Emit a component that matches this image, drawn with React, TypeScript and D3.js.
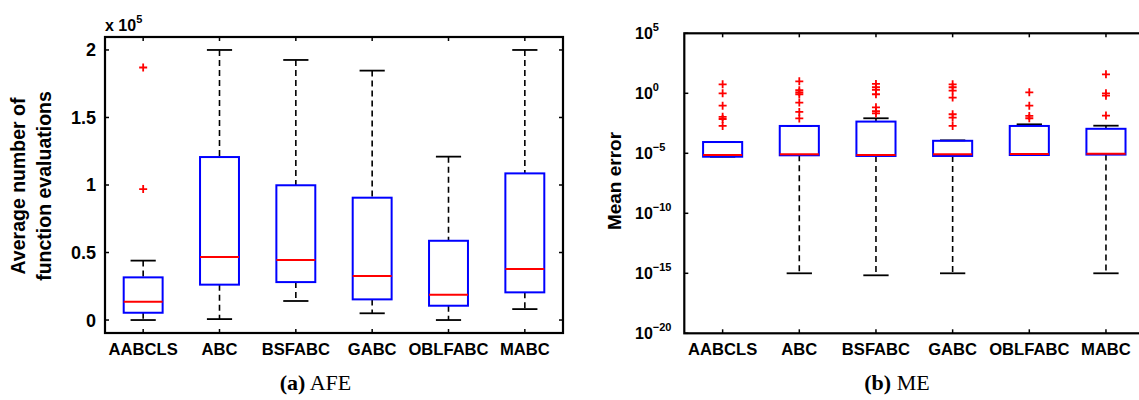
import React from "react";
import * as d3 from "d3";

// categories shared by both panels
const categories = ["AABCLS", "ABC", "BSFABC", "GABC", "OBLFABC", "MABC"];

// (a) AFE, in units of 1e5
const afeLow = [0.0, 0.007, 0.141, 0.05, 0.0, 0.081];
const afeQ1 = [0.054, 0.262, 0.281, 0.153, 0.106, 0.205];
const afeMed = [0.136, 0.467, 0.444, 0.326, 0.187, 0.378];
const afeQ3 = [0.316, 1.207, 0.998, 0.906, 0.587, 1.086];
const afeHigh = [0.44, 2.0, 1.926, 1.847, 1.21, 2.0];
const afeOut = [[1.87, 0.97], [], [], [], [], []];
const afeTicks = [0, 0.5, 1, 1.5, 2];

// (b) ME, log scale
const meLow = [5.2e-6, 1e-15, 6.8e-16, 1e-15, 7.2e-6, 1e-15];
const meQ1 = [5.2e-6, 6.8e-6, 6.0e-6, 6.0e-6, 7.2e-6, 7.8e-6];
const meMed = [7.2e-6, 8.3e-6, 7.2e-6, 8.3e-6, 8.7e-6, 9.3e-6];
const meQ3 = [8.7e-5, 1.9e-3, 4.4e-3, 1.1e-4, 1.9e-3, 1.1e-3];
const meHigh = [8.7e-5, 1.9e-3, 8.3e-3, 1.2e-4, 2.6e-3, 2.0e-3];
const meOut = [
  [5.6, 1.0, 0.093, 0.011, 0.0072, 0.0019],
  [10, 1.8, 1.2, 0.83, 0.17, 0.028, 0.008],
  [6.0, 3.2, 1.9, 0.83, 0.068, 0.032, 0.021],
  [5.6, 3.2, 1.7, 0.44, 0.018, 0.0093, 0.0019],
  [1.2, 0.093, 0.013, 0.0083],
  [38, 1.0, 0.63, 0.014],
];
const meTickExp = [5, 0, -5, -10, -15, -20];

const SANS = "'Liberation Sans', Arial, Helvetica, sans-serif";
const SERIF = "'Liberation Serif', 'Times New Roman', serif";

function Boxes({ x, y, low, q1, med, q3, high, out }: any) {
  const step = x.step();
  const bw = step * 0.255; // half box width
  const cw = step * 0.165; // half cap width
  return (
    <g>
      {categories.map((c, i) => {
        const cx = x(c);
        return (
          <g key={c}>
            <line x1={cx} x2={cx} y1={y(high[i])} y2={y(q3[i])} stroke="#000" strokeWidth={1.6} strokeDasharray="6,4" />
            <line x1={cx} x2={cx} y1={y(q1[i])} y2={y(low[i])} stroke="#000" strokeWidth={1.6} strokeDasharray="6,4" />
            <line x1={cx - cw} x2={cx + cw} y1={y(high[i])} y2={y(high[i])} stroke="#000" strokeWidth={1.8} />
            <line x1={cx - cw} x2={cx + cw} y1={y(low[i])} y2={y(low[i])} stroke="#000" strokeWidth={1.8} />
            <rect x={cx - bw} y={y(q3[i])} width={bw * 2} height={y(q1[i]) - y(q3[i])} fill="none" stroke="#0000ff" strokeWidth={2} />
            <line x1={cx - bw} x2={cx + bw} y1={y(med[i])} y2={y(med[i])} stroke="#ff0000" strokeWidth={2} />
            {out[i].map((v: number, j: number) => (
              <path key={j} d={`M${cx - 4},${y(v)}H${cx + 4}M${cx},${y(v) - 4}V${y(v) + 4}`} stroke="#ff0000" strokeWidth={1.8} />
            ))}
          </g>
        );
      })}
    </g>
  );
}

function Frame({ x, x0, x1, top, bottom, yTicks, y }: any) {
  return (
    <g>
      {categories.map((c) => (
        <g key={c}>
          <line x1={x(c)} x2={x(c)} y1={bottom} y2={bottom - 4} stroke="#000" strokeWidth={1.5} />
          <line x1={x(c)} x2={x(c)} y1={top} y2={top + 4} stroke="#000" strokeWidth={1.5} />
          <text x={x(c)} y={bottom + 22} textAnchor="middle" fontFamily={SANS} fontWeight="bold" fontSize={16.6}>{c}</text>
        </g>
      ))}
      {yTicks.map((t: number) => (
        <g key={t}>
          <line x1={x0} x2={x0 + 4} y1={y(t)} y2={y(t)} stroke="#000" strokeWidth={1.5} />
          <line x1={x1} x2={x1 - 4} y1={y(t)} y2={y(t)} stroke="#000" strokeWidth={1.5} />
        </g>
      ))}
      <rect x={x0} y={top} width={x1 - x0} height={bottom - top} fill="none" stroke="#000" strokeWidth={2.2} />
    </g>
  );
}

export default function App() {
  // panel (a)
  const aX0 = 105, aX1 = 563, aTop = 37, aBottom = 333;
  const xa = d3.scalePoint().domain(categories).range([aX0, aX1]).padding(0.5);
  const ya = d3.scaleLinear().domain([-0.096, 2.096]).range([aBottom, aTop]);

  // panel (b)
  const bX0 = 684.3, bX1 = 1144.3, bTop = 33.3, bBottom = 333.3;
  const xb = d3.scalePoint().domain(categories).range([bX0, bX1]).padding(0.5);
  const yb = d3.scaleLog().domain([1e-20, 1e5]).range([bBottom, bTop]);

  return (
    <svg width={1139} height={400} style={{ position: "absolute", left: 0, top: 0, background: "#fff" }}>
      {/* panel a */}
      <Frame x={xa} x0={aX0} x1={aX1} top={aTop} bottom={aBottom} yTicks={afeTicks} y={ya} />
      {afeTicks.map((t) => (
        <text key={t} x={96} y={ya(t)} dy="0.36em" textAnchor="end" fontFamily={SANS} fontWeight="bold" fontSize={18}>{t}</text>
      ))}
      <text x={105} y={31} fontFamily={SANS} fontWeight="bold" fontSize={16}>
        x 10<tspan fontSize={11} dy={-8}>5</tspan>
      </text>
      <Boxes x={xa} y={ya} low={afeLow} q1={afeQ1} med={afeMed} q3={afeQ3} high={afeHigh} out={afeOut} />
      <text transform={`translate(25,186) rotate(-90)`} textAnchor="middle" fontFamily={SANS} fontWeight="bold" fontSize={19.5}>Average number of</text>
      <text transform={`translate(50.5,186) rotate(-90)`} textAnchor="middle" fontFamily={SANS} fontWeight="bold" fontSize={19.5}>function evaluations</text>
      <text x={315.5} y={390} textAnchor="middle" fontFamily={SERIF} fontSize={22}>
        <tspan fontWeight="bold">(a)</tspan> AFE
      </text>

      {/* panel b */}
      <Frame x={xb} x0={bX0} x1={bX1} top={bTop} bottom={bBottom} yTicks={meTickExp.map((e) => Math.pow(10, e))} y={yb} />
      {meTickExp.map((e) => (
        <text key={e} x={635} y={yb(Math.pow(10, e))} dy="0.36em" fontFamily={SANS} fontWeight="bold" fontSize={16}>
          10<tspan fontSize={11} dy={-8}>{e < 0 ? "\u2212" + -e : e}</tspan>
        </text>
      ))}
      <Boxes x={xb} y={yb} low={meLow} q1={meQ1} med={meMed} q3={meQ3} high={meHigh} out={meOut} />
      <text transform={`translate(621,181) rotate(-90)`} textAnchor="middle" fontFamily={SANS} fontWeight="bold" fontSize={19}>Mean error</text>
      <text x={897} y={390} textAnchor="middle" fontFamily={SERIF} fontSize={22}>
        <tspan fontWeight="bold">(b)</tspan> ME
      </text>
    </svg>
  );
}
